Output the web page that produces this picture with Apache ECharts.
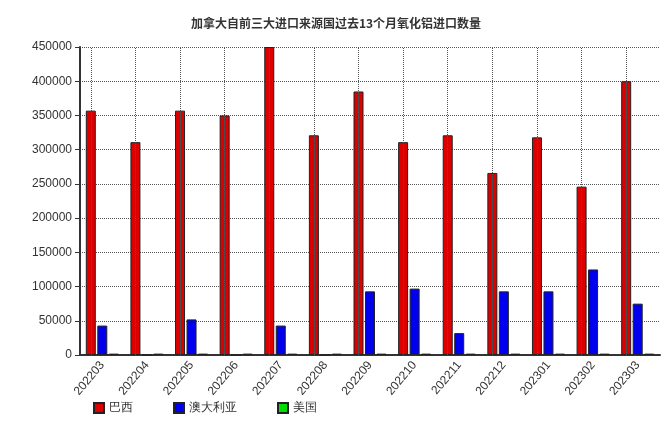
<!DOCTYPE html><html><head><meta charset="utf-8"><script src="https://cdn.jsdelivr.net/npm/echarts@6/dist/echarts.min.js"></script></head><body style="margin:0"><div id="c" style="width:672px;height:425px"></div><script>
const categories=['202203','202204','202205','202206','202207','202208','202209','202210','202211','202212','202301','202302','202303'];
const brazil=[357000,311000,357000,350000,450000,321000,385000,311000,321000,266000,318000,246000,400000];
const australia=[43000,0,52000,0,43000,0,93000,97000,32000,93000,93000,125000,75000];
const usa=[2000,2000,2000,2000,2000,2000,2000,2000,2000,2000,2000,2000,2000];
const c=echarts.init(document.getElementById('c'));
const bs={borderColor:'#222',borderWidth:1};
c.setOption({animation:false,
title:{text:'加拿大自前三大进口来源国过去13个月氧化铝进口数量',left:'center',top:12,textStyle:{fontSize:12,fontWeight:'bold',color:'#333',fontFamily:'Noto Sans CJK SC'}},
legend:{left:88,bottom:6,icon:'rect',itemWidth:10,itemHeight:10,itemGap:40,textStyle:{fontSize:12,color:'#333'},data:['巴西','澳大利亚','美国']},
grid:{left:80,right:12,top:47,bottom:70},
xAxis:{type:'category',data:categories,axisLine:{lineStyle:{color:'#333',width:2}},axisTick:{alignWithLabel:true,lineStyle:{color:'#333'}},axisLabel:{rotate:50,color:'#333',fontSize:12,margin:8}},
yAxis:{type:'value',min:0,max:450000,interval:50000,axisLine:{show:true,lineStyle:{color:'#333',width:2}},axisTick:{show:true},axisLabel:{color:'#333',fontSize:12,formatter:v=>String(v)},splitLine:{lineStyle:{type:'dotted',color:'#555'}}},
series:[
{name:'巴西',type:'bar',data:brazil,barWidth:10,barGap:'15%',itemStyle:Object.assign({color:'#dd0000'},bs),
 markLine:{silent:true,symbol:'none',label:{show:false},lineStyle:{type:'dotted',color:'#555',width:1},data:categories.map(x=>({xAxis:x}))}},
{name:'澳大利亚',type:'bar',data:australia,barWidth:10,itemStyle:Object.assign({color:'#0000ee'},bs)},
{name:'美国',type:'bar',data:usa,barWidth:10,itemStyle:Object.assign({color:'#00dd00'},bs)}
]});
</script></body></html>
